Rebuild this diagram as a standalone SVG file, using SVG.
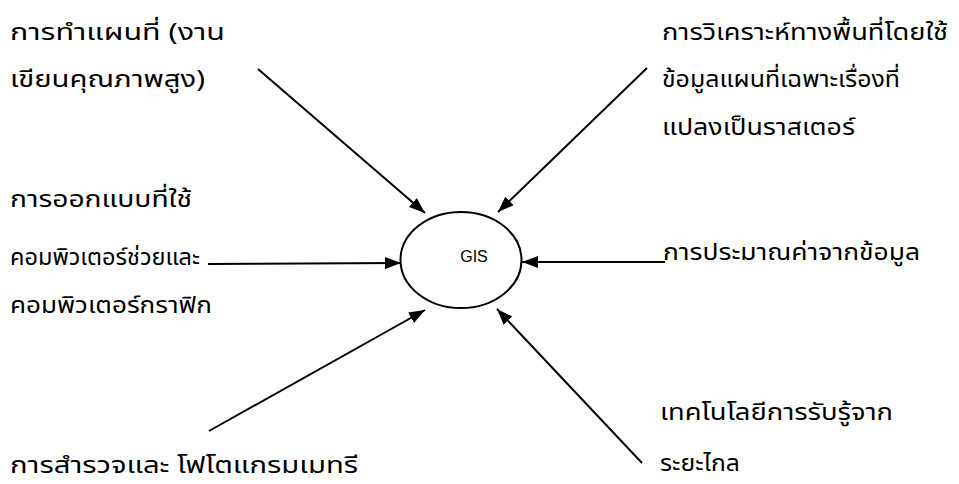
<svg xmlns="http://www.w3.org/2000/svg" width="959" height="484" viewBox="0 0 959 484">
<style>
.t{font-family:"Noto Sans Thai","Tahoma","Liberation Sans",sans-serif;font-size:23px;fill:#000}
.g{font-family:"Liberation Sans",Arial,sans-serif;font-size:16px;fill:#000}
.c{stroke:#000;stroke-width:2;fill:none}
</style>
<defs>
<marker id="ah" markerWidth="16" markerHeight="12" refX="16" refY="6" orient="auto" markerUnits="userSpaceOnUse">
<path d="M0,0 L16,6 L0,12 Z" fill="#000"/>
</marker>
</defs>
<rect width="959" height="484" fill="#fff"/>
<g id="connectors">
<line class="c" x1="258" y1="69" x2="425" y2="213" marker-end="url(#ah)"/>
<line class="c" x1="647" y1="68" x2="498" y2="212" marker-end="url(#ah)"/>
<line class="c" x1="208" y1="264" x2="401" y2="263" marker-end="url(#ah)"/>
<line class="c" x1="665" y1="262" x2="522" y2="262" marker-end="url(#ah)"/>
<line class="c" x1="209" y1="431" x2="425" y2="310" marker-end="url(#ah)"/>
<line class="c" x1="642" y1="463" x2="497" y2="309" marker-end="url(#ah)"/>
</g>
<g id="gis">
<ellipse cx="461" cy="260" rx="60.5" ry="48" fill="#fff" stroke="#000" stroke-width="2"/>
<text class="g" x="474" y="262" text-anchor="middle">GIS</text>
</g>
<g id="n-mapping">
<text class="t" x="10" y="40" textLength="215" lengthAdjust="spacingAndGlyphs">การทำแผนที่ (งาน</text>
<text class="t" x="10" y="87" textLength="195" lengthAdjust="spacingAndGlyphs">เขียนคุณภาพสูง)</text>
</g>
<g id="n-spatial">
<text class="t" x="662" y="40" textLength="286" lengthAdjust="spacingAndGlyphs">การวิเคราะห์ทางพื้นที่โดยใช้</text>
<text class="t" x="662" y="87" textLength="238" lengthAdjust="spacingAndGlyphs">ข้อมูลแผนที่เฉพาะเรื่องที่</text>
<text class="t" x="662" y="135" textLength="193" lengthAdjust="spacingAndGlyphs">แปลงเป็นราสเตอร์</text>
</g>
<g id="n-cad">
<text class="t" x="10" y="207" textLength="182" lengthAdjust="spacingAndGlyphs">การออกแบบที่ใช้</text>
<text class="t" x="10" y="265" textLength="190" lengthAdjust="spacingAndGlyphs">คอมพิวเตอร์ช่วยและ</text>
<text class="t" x="10" y="313" textLength="202" lengthAdjust="spacingAndGlyphs">คอมพิวเตอร์กราฟิก</text>
</g>
<g id="n-estimation">
<text class="t" x="663" y="260" textLength="257" lengthAdjust="spacingAndGlyphs">การประมาณค่าจากข้อมูล</text>
</g>
<g id="n-survey">
<text class="t" x="10" y="473" textLength="348" lengthAdjust="spacingAndGlyphs">การสำรวจและ โฟโตแกรมเมทรี</text>
</g>
<g id="n-remote">
<text class="t" x="660" y="420" textLength="233" lengthAdjust="spacingAndGlyphs">เทคโนโลยีการรับรู้จาก</text>
<text class="t" x="660" y="471" textLength="80" lengthAdjust="spacingAndGlyphs">ระยะไกล</text>
</g>
</svg>
